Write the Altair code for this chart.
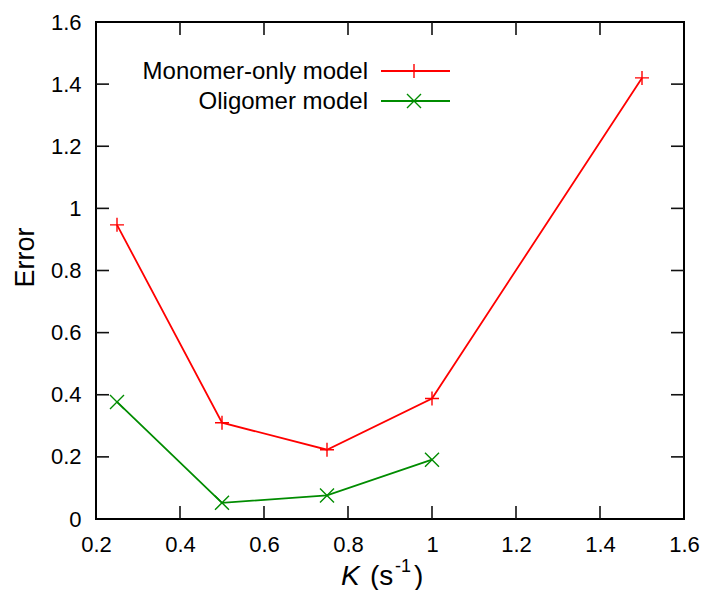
import altair as alt
import pandas as pd

# ---- data ----
k_monomer = [0.25, 0.5, 0.75, 1.0, 1.5]
monomer_error = [0.947, 0.310, 0.223, 0.388, 1.42]
k_oligomer = [0.25, 0.5, 0.75, 1.0]
oligomer_error = [0.377, 0.052, 0.076, 0.191]
series_names = ["Monomer-only model", "Oligomer model"]
series_colors = ["#ff0000", "#008c00"]
x_ticks = [0.2, 0.4, 0.6, 0.8, 1.0, 1.2, 1.4, 1.6]
y_ticks = [0.0, 0.2, 0.4, 0.6, 0.8, 1.0, 1.2, 1.4, 1.6]
x_title_parts = ["K", "(s", "-1", ")"]
y_title = "Error"

W, H = 588, 497
FONT = "Liberation Sans"
PLUS = "M-1,0L1,0M0,-1L0,1"
CROSS = "M-1,-1L1,1M-1,1L1,-1"
shapes = [PLUS, CROSS]
TICK = 13

xscale = alt.Scale(domain=[0.2, 1.6], nice=False, zero=False)
yscale = alt.Scale(domain=[0.0, 1.6], nice=False, zero=False)
xaxis = alt.Axis(values=x_ticks, format="~g", ticks=False, domain=False, grid=False,
                 labelFont=FONT, labelFontSize=22, labelColor="black", labelPadding=15,
                 labelFlush=False, labelOverlap=False, title=None)
yaxis = alt.Axis(values=y_ticks, format="~g", ticks=False, domain=False, grid=False,
                 labelFont=FONT, labelFontSize=22, labelColor="black", labelPadding=15,
                 labelFlush=False, labelOverlap=False,
                 title=y_title, titleFont=FONT, titleFontSize=27, titleFontWeight="normal",
                 titleColor="black", titleX=-63, titleY=235, titleAngle=270,
                 titleBaseline="alphabetic", titleAlign="center")

X = lambda f: alt.X(f, type="quantitative", scale=xscale, axis=xaxis)
Y = lambda f: alt.Y(f, type="quantitative", scale=yscale, axis=yaxis)

layers = []

# inward ticks (mirrored on all four sides)
xt = pd.DataFrame({"t": x_ticks[1:-1]})
yt = pd.DataFrame({"t": y_ticks[1:-1]})
tick_style = dict(color="#111111", strokeWidth=1.6)
layers.append(alt.Chart(xt).mark_rule(**tick_style).encode(x=X("t"), y=alt.value(H), y2=alt.value(H - TICK)))
layers.append(alt.Chart(xt).mark_rule(**tick_style).encode(x=X("t"), y=alt.value(0), y2=alt.value(TICK)))
layers.append(alt.Chart(yt).mark_rule(**tick_style).encode(y=Y("t"), x=alt.value(0), x2=alt.value(TICK)))
layers.append(alt.Chart(yt).mark_rule(**tick_style).encode(y=Y("t"), x=alt.value(W), x2=alt.value(W - TICK)))

# series
series = [
    pd.DataFrame({"K": k_monomer, "Error": monomer_error}),
    pd.DataFrame({"K": k_oligomer, "Error": oligomer_error}),
]
for i, df in enumerate(series):
    c = series_colors[i]
    layers.append(alt.Chart(df).mark_line(color=c, strokeWidth=1.8).encode(x=X("K"), y=Y("Error")))
    layers.append(alt.Chart(df).mark_point(shape=shapes[i], size=196, color=c, filled=False,
                                           strokeWidth=1.4, opacity=1).encode(x=X("K"), y=Y("Error")))

# legend (text on the left, line sample with marker on the right)
for i, name in enumerate(series_names):
    c = series_colors[i]
    ly = 49 + 30 * i
    d = pd.DataFrame({"name": [name]})
    layers.append(alt.Chart(d).mark_text(align="right", baseline="middle", font=FONT, fontSize=24,
                                         color="black").encode(text="name:N", x=alt.value(272), y=alt.value(ly + 1)))
    layers.append(alt.Chart(d).mark_rule(color=c, strokeWidth=1.8).encode(
        x=alt.value(285), x2=alt.value(354), y=alt.value(ly)))
    layers.append(alt.Chart(d).mark_point(shape=shapes[i], size=196, color=c, filled=False,
                                          strokeWidth=1.4, opacity=1).encode(x=alt.value(318), y=alt.value(ly)))

# x-axis title: italic K, (s, superscript -1, )
tp = pd.DataFrame({"p": x_title_parts})
title_specs = [
    (0, 245, 563, 28, "italic"),
    (1, 274, 563, 28, "normal"),
    (2, 299, 550, 18, "normal"),
    (3, 318, 563, 28, "normal"),
]
for idx, xpos, ypos, fs, style in title_specs:
    layers.append(alt.Chart(tp).transform_filter(alt.datum.p == x_title_parts[idx]).mark_text(
        align="left", baseline="alphabetic", font=FONT, fontSize=fs, fontStyle=style, color="black"
    ).encode(text="p:N", x=alt.value(xpos), y=alt.value(ypos)))

chart = alt.layer(*layers).properties(
    width=W, height=H,
    autosize=alt.AutoSizeParams(type="none"),
    padding={"left": 88, "top": 14, "right": 16, "bottom": 71},
    background="white",
).configure_view(stroke="black", strokeWidth=2)

chart.save("out.html", embed_options={"renderer": "svg", "actions": False})
